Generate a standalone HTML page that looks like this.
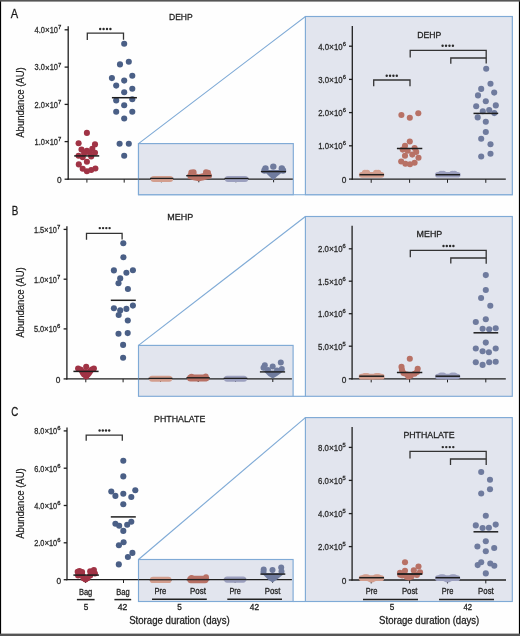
<!DOCTYPE html>
<html><head><meta charset="utf-8"><title>Figure</title>
<style>
html,body{margin:0;padding:0;background:#fff;}
body{width:520px;height:636px;overflow:hidden;font-family:"Liberation Sans",sans-serif;}
svg{display:block;will-change:transform;}
text{font-family:"Liberation Sans",sans-serif;}
</style></head><body>
<svg width="520" height="636" viewBox="0 0 520 636" font-family="Liberation Sans, sans-serif">
<rect x="0" y="0" width="520" height="636" fill="#fefefe"/>
<text x="10.8" y="18.3" font-size="12.6" text-anchor="start" fill="#1a1a1a" stroke="#1a1a1a" stroke-width="0.28" textLength="7.4" lengthAdjust="spacingAndGlyphs">A</text>
<text x="169" y="20.2" font-size="9.4" text-anchor="start" fill="#1e1e1e" stroke="#1e1e1e" stroke-width="0.28" textLength="23.7" lengthAdjust="spacingAndGlyphs">DEHP</text>
<text x="0" y="0" font-size="10.4" text-anchor="middle" fill="#1e1e1e" stroke="#1e1e1e" stroke-width="0.2" textLength="70.5" lengthAdjust="spacingAndGlyphs" transform="translate(24.3 102.5) rotate(-90)">Abundance (AU)</text>
<line x1="68.2" y1="26.3" x2="68.2" y2="179.8" stroke="#1f1f1f" stroke-width="1.3"/>
<line x1="67.6" y1="179.2" x2="292.8" y2="179.2" stroke="#1f1f1f" stroke-width="1.3"/>
<line x1="64.6" y1="29.8" x2="68.2" y2="29.8" stroke="#1f1f1f" stroke-width="1.3"/>
<text x="34.6" y="33.1" font-size="8.4" text-anchor="start" fill="#2a2a2a" stroke="#2a2a2a" stroke-width="0.28" textLength="23.3" lengthAdjust="spacingAndGlyphs">4.0<tspan font-size="9.07" dy="0.15">×</tspan><tspan dy="-0.15">10</tspan></text>
<text x="58" y="29.2" font-size="5.4" text-anchor="start" fill="#2a2a2a" stroke="#2a2a2a" stroke-width="0.28" textLength="3.3" lengthAdjust="spacingAndGlyphs">7</text>
<line x1="64.6" y1="67.1" x2="68.2" y2="67.1" stroke="#1f1f1f" stroke-width="1.3"/>
<text x="34.6" y="70.4" font-size="8.4" text-anchor="start" fill="#2a2a2a" stroke="#2a2a2a" stroke-width="0.28" textLength="23.3" lengthAdjust="spacingAndGlyphs">3.0<tspan font-size="9.07" dy="0.15">×</tspan><tspan dy="-0.15">10</tspan></text>
<text x="58" y="66.5" font-size="5.4" text-anchor="start" fill="#2a2a2a" stroke="#2a2a2a" stroke-width="0.28" textLength="3.3" lengthAdjust="spacingAndGlyphs">7</text>
<line x1="64.6" y1="104.4" x2="68.2" y2="104.4" stroke="#1f1f1f" stroke-width="1.3"/>
<text x="34.6" y="107.7" font-size="8.4" text-anchor="start" fill="#2a2a2a" stroke="#2a2a2a" stroke-width="0.28" textLength="23.3" lengthAdjust="spacingAndGlyphs">2.0<tspan font-size="9.07" dy="0.15">×</tspan><tspan dy="-0.15">10</tspan></text>
<text x="58" y="103.8" font-size="5.4" text-anchor="start" fill="#2a2a2a" stroke="#2a2a2a" stroke-width="0.28" textLength="3.3" lengthAdjust="spacingAndGlyphs">7</text>
<line x1="64.6" y1="141.6" x2="68.2" y2="141.6" stroke="#1f1f1f" stroke-width="1.3"/>
<text x="34.6" y="144.9" font-size="8.4" text-anchor="start" fill="#2a2a2a" stroke="#2a2a2a" stroke-width="0.28" textLength="23.3" lengthAdjust="spacingAndGlyphs">1.0<tspan font-size="9.07" dy="0.15">×</tspan><tspan dy="-0.15">10</tspan></text>
<text x="58" y="141" font-size="5.4" text-anchor="start" fill="#2a2a2a" stroke="#2a2a2a" stroke-width="0.28" textLength="3.3" lengthAdjust="spacingAndGlyphs">7</text>
<line x1="64.6" y1="179.2" x2="68.2" y2="179.2" stroke="#1f1f1f" stroke-width="1.3"/>
<text x="61.5" y="182.9" font-size="8.3" text-anchor="end" fill="#2a2a2a" stroke="#2a2a2a" stroke-width="0.28">0</text>
<line x1="86.9" y1="179.2" x2="86.9" y2="182.6" stroke="#1f1f1f" stroke-width="1"/>
<line x1="124.2" y1="179.2" x2="124.2" y2="182.6" stroke="#1f1f1f" stroke-width="1"/>
<path d="M87.3 40.1 V33.1 H123.5 V39.8" fill="none" stroke="#333" stroke-width="1.3"/>
<circle cx="100.2" cy="29" r="1.2" fill="#2a2a2a"/>
<circle cx="103.6" cy="29" r="1.2" fill="#2a2a2a"/>
<circle cx="107" cy="29" r="1.2" fill="#2a2a2a"/>
<circle cx="110.4" cy="29" r="1.2" fill="#2a2a2a"/>
<circle cx="86.9" cy="132.9" r="3.05" fill="#a03345"/>
<circle cx="78.6" cy="143.2" r="3.05" fill="#a03345"/>
<circle cx="95" cy="144.4" r="3.05" fill="#a03345"/>
<circle cx="81.5" cy="149.6" r="3.05" fill="#a03345"/>
<circle cx="86.9" cy="150.8" r="3.05" fill="#a03345"/>
<circle cx="92.3" cy="148.8" r="3.05" fill="#a03345"/>
<circle cx="95" cy="152.7" r="3.05" fill="#a03345"/>
<circle cx="78.6" cy="155.8" r="3.05" fill="#a03345"/>
<circle cx="82.7" cy="157.3" r="3.05" fill="#a03345"/>
<circle cx="91.2" cy="156.5" r="3.05" fill="#a03345"/>
<circle cx="86.9" cy="161.7" r="3.05" fill="#a03345"/>
<circle cx="78.8" cy="164.4" r="3.05" fill="#a03345"/>
<circle cx="82.7" cy="168.8" r="3.05" fill="#a03345"/>
<circle cx="86.9" cy="171.2" r="3.05" fill="#a03345"/>
<circle cx="91.2" cy="170" r="3.05" fill="#a03345"/>
<circle cx="95.4" cy="168.5" r="3.05" fill="#a03345"/>
<circle cx="84.2" cy="153.2" r="3.05" fill="#a03345"/>
<circle cx="89.5" cy="152.5" r="3.05" fill="#a03345"/>
<circle cx="124.2" cy="43.8" r="3.05" fill="#4a5f86"/>
<circle cx="120" cy="64.4" r="3.05" fill="#4a5f86"/>
<circle cx="128.8" cy="61.7" r="3.05" fill="#4a5f86"/>
<circle cx="111.9" cy="78.1" r="3.05" fill="#4a5f86"/>
<circle cx="124.2" cy="80.6" r="3.05" fill="#4a5f86"/>
<circle cx="132.3" cy="75.8" r="3.05" fill="#4a5f86"/>
<circle cx="116.2" cy="85.6" r="3.05" fill="#4a5f86"/>
<circle cx="132.3" cy="88.8" r="3.05" fill="#4a5f86"/>
<circle cx="124.2" cy="92.3" r="3.05" fill="#4a5f86"/>
<circle cx="116.2" cy="100.4" r="3.05" fill="#4a5f86"/>
<circle cx="132.3" cy="99.2" r="3.05" fill="#4a5f86"/>
<circle cx="124.2" cy="105.2" r="3.05" fill="#4a5f86"/>
<circle cx="116.2" cy="111.7" r="3.05" fill="#4a5f86"/>
<circle cx="132.3" cy="111.7" r="3.05" fill="#4a5f86"/>
<circle cx="124.2" cy="118.5" r="3.05" fill="#4a5f86"/>
<circle cx="119.6" cy="143.8" r="3.05" fill="#4a5f86"/>
<circle cx="128.8" cy="143.8" r="3.05" fill="#4a5f86"/>
<circle cx="124.2" cy="155.8" r="3.05" fill="#4a5f86"/>
<line x1="74.2" y1="155.9" x2="99.2" y2="155.9" stroke="#1e1e1e" stroke-width="1.5"/>
<line x1="111.9" y1="97.7" x2="136.9" y2="97.7" stroke="#1e1e1e" stroke-width="1.5"/>
<path d="M138.5 143.6 L305.4 16.5 H512.3 V194.7 H138.5 Z" fill="none" stroke="#7faad6" stroke-width="1.15"/>
<rect x="138.5" y="143.6" width="154.8" height="51.1" fill="#e2e5ee" stroke="#7faad6" stroke-width="1.15"/>
<rect x="305.4" y="16.5" width="206.9" height="178.2" fill="#e2e5ee" stroke="#7faad6" stroke-width="1.15"/>
<line x1="138.4" y1="179.2" x2="292.8" y2="179.2" stroke="#1f1f1f" stroke-width="1.3"/>
<line x1="161.4" y1="179.2" x2="161.4" y2="182.3" stroke="#1f1f1f" stroke-width="1"/>
<line x1="198.8" y1="179.2" x2="198.8" y2="182.3" stroke="#1f1f1f" stroke-width="1"/>
<line x1="235.9" y1="179.2" x2="235.9" y2="182.3" stroke="#1f1f1f" stroke-width="1"/>
<line x1="273.6" y1="179.2" x2="273.6" y2="182.3" stroke="#1f1f1f" stroke-width="1"/>
<rect x="150.6" y="175.9" width="22.5" height="6" rx="3" fill="#d39e8e"/>
<line x1="150" y1="178.4" x2="173.4" y2="178.4" stroke="#1e1e1e" stroke-width="1.3"/>
<circle cx="191.3" cy="172.4" r="3" fill="#b87165"/>
<circle cx="193.6" cy="172.2" r="3" fill="#b87165"/>
<circle cx="206" cy="172.2" r="3" fill="#b87165"/>
<circle cx="208" cy="172.8" r="3" fill="#b87165"/>
<circle cx="190.3" cy="175.8" r="3" fill="#b87165"/>
<circle cx="209" cy="175.8" r="3" fill="#b87165"/>
<path d="M187.6 174.5 L192 172.5 L198.7 174.3 L205.5 172.5 L210.1 174.5 L209.6 178.5 L204 180.3 L198.7 181.3 L193.5 180.3 L188 178.5 Z" fill="#b87165"/>
<line x1="186.2" y1="175.7" x2="211.5" y2="175.7" stroke="#1e1e1e" stroke-width="1.4"/>
<rect x="224.9" y="176" width="23.3" height="6" rx="3" fill="#9ca0bf"/>
<line x1="224.5" y1="178.5" x2="248.6" y2="178.5" stroke="#1e1e1e" stroke-width="1.3"/>
<circle cx="265.5" cy="168.4" r="3.2" fill="#6f7b9e"/>
<circle cx="273.3" cy="166.6" r="3.2" fill="#6f7b9e"/>
<circle cx="281.8" cy="168.4" r="3.2" fill="#6f7b9e"/>
<circle cx="264.5" cy="170.5" r="3.2" fill="#6f7b9e"/>
<circle cx="283" cy="170.5" r="3.2" fill="#6f7b9e"/>
<path d="M262.8 170 L285 170 L277 176.5 L273.3 180.3 L269.5 176.5 Z" fill="#6f7b9e"/>
<line x1="260.9" y1="171.6" x2="286.1" y2="171.6" stroke="#1e1e1e" stroke-width="1.4"/>
<text x="417.3" y="37.5" font-size="9.4" text-anchor="start" fill="#1e1e1e" stroke="#1e1e1e" stroke-width="0.28" textLength="24" lengthAdjust="spacingAndGlyphs">DEHP</text>
<line x1="352.3" y1="25.9" x2="352.3" y2="179.8" stroke="#1f1f1f" stroke-width="1.3"/>
<line x1="351.7" y1="179.2" x2="505.8" y2="179.2" stroke="#1f1f1f" stroke-width="1.3"/>
<line x1="349" y1="46.2" x2="352.3" y2="46.2" stroke="#1f1f1f" stroke-width="1.3"/>
<text x="318.3" y="49.5" font-size="8.4" text-anchor="start" fill="#2a2a2a" stroke="#2a2a2a" stroke-width="0.28" textLength="24.4" lengthAdjust="spacingAndGlyphs">4.0<tspan font-size="9.07" dy="0.15">×</tspan><tspan dy="-0.15">10</tspan></text>
<text x="342.8" y="45.6" font-size="5.4" text-anchor="start" fill="#2a2a2a" stroke="#2a2a2a" stroke-width="0.28" textLength="3.2" lengthAdjust="spacingAndGlyphs">6</text>
<line x1="349" y1="79.4" x2="352.3" y2="79.4" stroke="#1f1f1f" stroke-width="1.3"/>
<text x="318.3" y="82.7" font-size="8.4" text-anchor="start" fill="#2a2a2a" stroke="#2a2a2a" stroke-width="0.28" textLength="24.4" lengthAdjust="spacingAndGlyphs">3.0<tspan font-size="9.07" dy="0.15">×</tspan><tspan dy="-0.15">10</tspan></text>
<text x="342.8" y="78.8" font-size="5.4" text-anchor="start" fill="#2a2a2a" stroke="#2a2a2a" stroke-width="0.28" textLength="3.2" lengthAdjust="spacingAndGlyphs">6</text>
<line x1="349" y1="112.6" x2="352.3" y2="112.6" stroke="#1f1f1f" stroke-width="1.3"/>
<text x="318.3" y="115.9" font-size="8.4" text-anchor="start" fill="#2a2a2a" stroke="#2a2a2a" stroke-width="0.28" textLength="24.4" lengthAdjust="spacingAndGlyphs">2.0<tspan font-size="9.07" dy="0.15">×</tspan><tspan dy="-0.15">10</tspan></text>
<text x="342.8" y="112" font-size="5.4" text-anchor="start" fill="#2a2a2a" stroke="#2a2a2a" stroke-width="0.28" textLength="3.2" lengthAdjust="spacingAndGlyphs">6</text>
<line x1="349" y1="145.8" x2="352.3" y2="145.8" stroke="#1f1f1f" stroke-width="1.3"/>
<text x="318.3" y="149.1" font-size="8.4" text-anchor="start" fill="#2a2a2a" stroke="#2a2a2a" stroke-width="0.28" textLength="24.4" lengthAdjust="spacingAndGlyphs">1.0<tspan font-size="9.07" dy="0.15">×</tspan><tspan dy="-0.15">10</tspan></text>
<text x="342.8" y="145.2" font-size="5.4" text-anchor="start" fill="#2a2a2a" stroke="#2a2a2a" stroke-width="0.28" textLength="3.2" lengthAdjust="spacingAndGlyphs">6</text>
<line x1="349" y1="179.1" x2="352.3" y2="179.1" stroke="#1f1f1f" stroke-width="1.3"/>
<text x="346.3" y="182.8" font-size="8.3" text-anchor="end" fill="#2a2a2a" stroke="#2a2a2a" stroke-width="0.28">0</text>
<line x1="371.2" y1="179.2" x2="371.2" y2="182.8" stroke="#1f1f1f" stroke-width="1"/>
<line x1="409.6" y1="179.2" x2="409.6" y2="182.8" stroke="#1f1f1f" stroke-width="1"/>
<line x1="447.5" y1="179.2" x2="447.5" y2="182.8" stroke="#1f1f1f" stroke-width="1"/>
<line x1="485.8" y1="179.2" x2="485.8" y2="182.8" stroke="#1f1f1f" stroke-width="1"/>
<path d="M373.7 86.3 V80 H410 V86.3" fill="none" stroke="#333" stroke-width="1.3"/>
<circle cx="386.7" cy="75.7" r="1.2" fill="#2a2a2a"/>
<circle cx="390.07" cy="75.7" r="1.2" fill="#2a2a2a"/>
<circle cx="393.43" cy="75.7" r="1.2" fill="#2a2a2a"/>
<circle cx="396.8" cy="75.7" r="1.2" fill="#2a2a2a"/>
<path d="M410.2 57.5 V50.3 H486.2 V63.4" fill="none" stroke="#333" stroke-width="1.3"/>
<path d="M450.8 63.8 V58 H486.2 V58" fill="none" stroke="#333" stroke-width="1.3"/>
<circle cx="442.6" cy="45.8" r="1.2" fill="#2a2a2a"/>
<circle cx="446.03" cy="45.8" r="1.2" fill="#2a2a2a"/>
<circle cx="449.47" cy="45.8" r="1.2" fill="#2a2a2a"/>
<circle cx="452.9" cy="45.8" r="1.2" fill="#2a2a2a"/>
<rect x="358.9" y="171.9" width="25.4" height="5.9" rx="3" fill="#d39e8e"/>
<circle cx="364.91" cy="172.73" r="3.05" fill="#d39e8e"/>
<circle cx="367.11" cy="172.73" r="3.05" fill="#d39e8e"/>
<circle cx="376.09" cy="172.73" r="3.05" fill="#d39e8e"/>
<circle cx="378.29" cy="172.73" r="3.05" fill="#d39e8e"/>
<line x1="359.5" y1="174.7" x2="384" y2="174.7" stroke="#1e1e1e" stroke-width="1.5"/>
<circle cx="401.4" cy="115" r="3.05" fill="#b87165"/>
<circle cx="409.8" cy="117.8" r="3.05" fill="#b87165"/>
<circle cx="418.3" cy="113.3" r="3.05" fill="#b87165"/>
<circle cx="409.8" cy="141.5" r="3.05" fill="#b87165"/>
<circle cx="405" cy="145.8" r="3.05" fill="#b87165"/>
<circle cx="414.6" cy="148.1" r="3.05" fill="#b87165"/>
<circle cx="402.7" cy="149.6" r="3.05" fill="#b87165"/>
<circle cx="407.7" cy="150.8" r="3.05" fill="#b87165"/>
<circle cx="416.2" cy="151.9" r="3.05" fill="#b87165"/>
<circle cx="405" cy="155.8" r="3.05" fill="#b87165"/>
<circle cx="412.3" cy="154.6" r="3.05" fill="#b87165"/>
<circle cx="418.5" cy="157.7" r="3.05" fill="#b87165"/>
<circle cx="401.2" cy="161.5" r="3.05" fill="#b87165"/>
<circle cx="405.4" cy="163.8" r="3.05" fill="#b87165"/>
<circle cx="410" cy="164.2" r="3.05" fill="#b87165"/>
<circle cx="414.6" cy="162.7" r="3.05" fill="#b87165"/>
<line x1="396.9" y1="148.5" x2="422.3" y2="148.5" stroke="#1e1e1e" stroke-width="1.5"/>
<rect x="435" y="171.9" width="25.6" height="5.6" rx="3" fill="#9ca0bf"/>
<circle cx="441.07" cy="173.73" r="3.05" fill="#9ca0bf"/>
<circle cx="443.27" cy="173.73" r="3.05" fill="#9ca0bf"/>
<circle cx="452.33" cy="173.73" r="3.05" fill="#9ca0bf"/>
<circle cx="454.53" cy="173.73" r="3.05" fill="#9ca0bf"/>
<line x1="435.8" y1="174.7" x2="460" y2="174.7" stroke="#1e1e1e" stroke-width="1.5"/>
<circle cx="486.2" cy="68.8" r="3.05" fill="#6f7b9e"/>
<circle cx="490.5" cy="83.8" r="3.05" fill="#6f7b9e"/>
<circle cx="481.2" cy="88.9" r="3.05" fill="#6f7b9e"/>
<circle cx="494.2" cy="92.6" r="3.05" fill="#6f7b9e"/>
<circle cx="478" cy="95.4" r="3.05" fill="#6f7b9e"/>
<circle cx="485.8" cy="101.2" r="3.05" fill="#6f7b9e"/>
<circle cx="476.2" cy="106.2" r="3.05" fill="#6f7b9e"/>
<circle cx="495.8" cy="105.4" r="3.05" fill="#6f7b9e"/>
<circle cx="482.8" cy="111.2" r="3.05" fill="#6f7b9e"/>
<circle cx="489.2" cy="110" r="3.05" fill="#6f7b9e"/>
<circle cx="494.3" cy="113.1" r="3.05" fill="#6f7b9e"/>
<circle cx="477.7" cy="117.4" r="3.05" fill="#6f7b9e"/>
<circle cx="485.8" cy="121.7" r="3.05" fill="#6f7b9e"/>
<circle cx="485.8" cy="132" r="3.05" fill="#6f7b9e"/>
<circle cx="481.2" cy="138.8" r="3.05" fill="#6f7b9e"/>
<circle cx="490.5" cy="144.3" r="3.05" fill="#6f7b9e"/>
<circle cx="490.5" cy="153.8" r="3.05" fill="#6f7b9e"/>
<circle cx="481.2" cy="156.5" r="3.05" fill="#6f7b9e"/>
<line x1="473.5" y1="113.4" x2="498.2" y2="113.4" stroke="#1e1e1e" stroke-width="1.5"/>
<text x="11.8" y="215.1" font-size="12.6" text-anchor="start" fill="#1a1a1a" stroke="#1a1a1a" stroke-width="0.28" textLength="6.6" lengthAdjust="spacingAndGlyphs">B</text>
<text x="167.3" y="220.2" font-size="9.4" text-anchor="start" fill="#1e1e1e" stroke="#1e1e1e" stroke-width="0.28" textLength="25.9" lengthAdjust="spacingAndGlyphs">MEHP</text>
<text x="0" y="0" font-size="10.4" text-anchor="middle" fill="#1e1e1e" stroke="#1e1e1e" stroke-width="0.2" textLength="70.5" lengthAdjust="spacingAndGlyphs" transform="translate(24.3 302.5) rotate(-90)">Abundance (AU)</text>
<line x1="66.9" y1="226.2" x2="66.9" y2="379.5" stroke="#1f1f1f" stroke-width="1.3"/>
<line x1="66.3" y1="378.9" x2="291.9" y2="378.9" stroke="#1f1f1f" stroke-width="1.3"/>
<line x1="63.6" y1="229.4" x2="66.9" y2="229.4" stroke="#1f1f1f" stroke-width="1.3"/>
<text x="33.9" y="232.7" font-size="8.4" text-anchor="start" fill="#2a2a2a" stroke="#2a2a2a" stroke-width="0.28" textLength="23" lengthAdjust="spacingAndGlyphs">1.5<tspan font-size="9.07" dy="0.15">×</tspan><tspan dy="-0.15">10</tspan></text>
<text x="57" y="228.8" font-size="5.4" text-anchor="start" fill="#2a2a2a" stroke="#2a2a2a" stroke-width="0.28" textLength="3.3" lengthAdjust="spacingAndGlyphs">7</text>
<line x1="63.6" y1="279.2" x2="66.9" y2="279.2" stroke="#1f1f1f" stroke-width="1.3"/>
<text x="33.9" y="282.5" font-size="8.4" text-anchor="start" fill="#2a2a2a" stroke="#2a2a2a" stroke-width="0.28" textLength="23" lengthAdjust="spacingAndGlyphs">1.0<tspan font-size="9.07" dy="0.15">×</tspan><tspan dy="-0.15">10</tspan></text>
<text x="57" y="278.6" font-size="5.4" text-anchor="start" fill="#2a2a2a" stroke="#2a2a2a" stroke-width="0.28" textLength="3.3" lengthAdjust="spacingAndGlyphs">7</text>
<line x1="63.6" y1="328.9" x2="66.9" y2="328.9" stroke="#1f1f1f" stroke-width="1.3"/>
<text x="33.9" y="332.2" font-size="8.4" text-anchor="start" fill="#2a2a2a" stroke="#2a2a2a" stroke-width="0.28" textLength="23" lengthAdjust="spacingAndGlyphs">5.0<tspan font-size="9.07" dy="0.15">×</tspan><tspan dy="-0.15">10</tspan></text>
<text x="57" y="328.3" font-size="5.4" text-anchor="start" fill="#2a2a2a" stroke="#2a2a2a" stroke-width="0.28" textLength="3.3" lengthAdjust="spacingAndGlyphs">6</text>
<line x1="63.6" y1="378.9" x2="66.9" y2="378.9" stroke="#1f1f1f" stroke-width="1.3"/>
<text x="60.3" y="382.6" font-size="8.3" text-anchor="end" fill="#2a2a2a" stroke="#2a2a2a" stroke-width="0.28">0</text>
<line x1="85.8" y1="378.9" x2="85.8" y2="382.3" stroke="#1f1f1f" stroke-width="1"/>
<line x1="123.1" y1="378.9" x2="123.1" y2="382.3" stroke="#1f1f1f" stroke-width="1"/>
<path d="M86.5 239.8 V233.3 H122.1 V239.6" fill="none" stroke="#333" stroke-width="1.3"/>
<circle cx="99.8" cy="228.1" r="1.2" fill="#2a2a2a"/>
<circle cx="103.07" cy="228.1" r="1.2" fill="#2a2a2a"/>
<circle cx="106.33" cy="228.1" r="1.2" fill="#2a2a2a"/>
<circle cx="109.6" cy="228.1" r="1.2" fill="#2a2a2a"/>
<circle cx="78.1" cy="368.5" r="3.05" fill="#a03345"/>
<circle cx="86.2" cy="366.8" r="3.05" fill="#a03345"/>
<circle cx="93.9" cy="368.5" r="3.05" fill="#a03345"/>
<circle cx="82.1" cy="371.2" r="3.05" fill="#a03345"/>
<circle cx="90.2" cy="371.2" r="3.05" fill="#a03345"/>
<circle cx="84.1" cy="374.5" r="3.05" fill="#a03345"/>
<circle cx="87.8" cy="374.5" r="3.05" fill="#a03345"/>
<circle cx="86.2" cy="376.5" r="3.05" fill="#a03345"/>
<circle cx="80.5" cy="369.5" r="3.05" fill="#a03345"/>
<circle cx="91.8" cy="369.5" r="3.05" fill="#a03345"/>
<circle cx="86" cy="372" r="3.05" fill="#a03345"/>
<circle cx="83" cy="373" r="3.05" fill="#a03345"/>
<circle cx="89" cy="373" r="3.05" fill="#a03345"/>
<circle cx="123.3" cy="243.2" r="3.05" fill="#4a5f86"/>
<circle cx="123.4" cy="257.2" r="3.05" fill="#4a5f86"/>
<circle cx="113.9" cy="270.4" r="3.05" fill="#4a5f86"/>
<circle cx="126.4" cy="272.7" r="3.05" fill="#4a5f86"/>
<circle cx="132.9" cy="270.2" r="3.05" fill="#4a5f86"/>
<circle cx="120.2" cy="278.4" r="3.05" fill="#4a5f86"/>
<circle cx="118.5" cy="283.2" r="3.05" fill="#4a5f86"/>
<circle cx="127.9" cy="289" r="3.05" fill="#4a5f86"/>
<circle cx="113.9" cy="308.2" r="3.05" fill="#4a5f86"/>
<circle cx="120.2" cy="310.4" r="3.05" fill="#4a5f86"/>
<circle cx="126.4" cy="308.9" r="3.05" fill="#4a5f86"/>
<circle cx="132.9" cy="305.6" r="3.05" fill="#4a5f86"/>
<circle cx="118.7" cy="315" r="3.05" fill="#4a5f86"/>
<circle cx="127.8" cy="320.5" r="3.05" fill="#4a5f86"/>
<circle cx="118.5" cy="333.8" r="3.05" fill="#4a5f86"/>
<circle cx="127.7" cy="333.1" r="3.05" fill="#4a5f86"/>
<circle cx="123.1" cy="344.9" r="3.05" fill="#4a5f86"/>
<circle cx="123.1" cy="357.7" r="3.05" fill="#4a5f86"/>
<line x1="73.4" y1="371.4" x2="98.6" y2="371.4" stroke="#1e1e1e" stroke-width="1.5"/>
<line x1="110.8" y1="300.3" x2="135.8" y2="300.3" stroke="#1e1e1e" stroke-width="1.5"/>
<path d="M138.5 345.4 L305.4 216.5" fill="none" stroke="#7faad6" stroke-width="1.15"/>
<rect x="138.5" y="345.4" width="154.6" height="50.9" fill="#e2e5ee" stroke="#7faad6" stroke-width="1.15"/>
<rect x="305.4" y="216.5" width="206.9" height="179.8" fill="#e2e5ee" stroke="#7faad6" stroke-width="1.15"/>
<line x1="293.1" y1="396.3" x2="305.4" y2="396.3" stroke="#7faad6" stroke-width="1.15"/>
<line x1="138.5" y1="378.9" x2="291.9" y2="378.9" stroke="#1f1f1f" stroke-width="1.3"/>
<line x1="160.5" y1="378.9" x2="160.5" y2="382" stroke="#1f1f1f" stroke-width="1"/>
<line x1="198.2" y1="378.9" x2="198.2" y2="382" stroke="#1f1f1f" stroke-width="1"/>
<line x1="235.5" y1="378.9" x2="235.5" y2="382" stroke="#1f1f1f" stroke-width="1"/>
<line x1="272.8" y1="378.9" x2="272.8" y2="382" stroke="#1f1f1f" stroke-width="1"/>
<rect x="149" y="375.8" width="23.2" height="6" rx="3" fill="#d39e8e"/>
<line x1="148.5" y1="378.4" x2="172.6" y2="378.4" stroke="#1e1e1e" stroke-width="1.3"/>
<rect x="187" y="374.5" width="21.8" height="7" rx="3.5" fill="#b87165"/>
<circle cx="191.5" cy="376.5" r="2.8" fill="#b87165"/>
<circle cx="205.8" cy="376.2" r="2.8" fill="#b87165"/>
<circle cx="206.5" cy="378.5" r="2.8" fill="#b87165"/>
<line x1="186.4" y1="377.8" x2="209.8" y2="377.8" stroke="#1e1e1e" stroke-width="1.4"/>
<rect x="224" y="375.8" width="23" height="6" rx="3" fill="#9ca0bf"/>
<line x1="223.6" y1="378.4" x2="247.4" y2="378.4" stroke="#1e1e1e" stroke-width="1.3"/>
<circle cx="264.8" cy="365.2" r="3" fill="#6f7b9e"/>
<circle cx="272.7" cy="366.5" r="3" fill="#6f7b9e"/>
<circle cx="280.8" cy="362.5" r="3" fill="#6f7b9e"/>
<circle cx="281.8" cy="369.1" r="3" fill="#6f7b9e"/>
<circle cx="263.5" cy="367.8" r="3" fill="#6f7b9e"/>
<circle cx="268" cy="370" r="3" fill="#6f7b9e"/>
<circle cx="277" cy="370.5" r="3" fill="#6f7b9e"/>
<path d="M263 370.5 L284.5 370.5 L277 376 L272.7 378.6 L268.5 376 Z" fill="#6f7b9e"/>
<line x1="259.9" y1="371.9" x2="285.1" y2="371.9" stroke="#1e1e1e" stroke-width="1.4"/>
<text x="416.6" y="236.8" font-size="9.4" text-anchor="start" fill="#1e1e1e" stroke="#1e1e1e" stroke-width="0.28" textLength="25.7" lengthAdjust="spacingAndGlyphs">MEHP</text>
<line x1="352.1" y1="225.8" x2="352.1" y2="379.4" stroke="#1f1f1f" stroke-width="1.3"/>
<line x1="351.5" y1="378.8" x2="505.8" y2="378.8" stroke="#1f1f1f" stroke-width="1.3"/>
<line x1="348.8" y1="248.8" x2="352.1" y2="248.8" stroke="#1f1f1f" stroke-width="1.3"/>
<text x="318.1" y="252.1" font-size="8.4" text-anchor="start" fill="#2a2a2a" stroke="#2a2a2a" stroke-width="0.28" textLength="24.4" lengthAdjust="spacingAndGlyphs">2.0<tspan font-size="9.07" dy="0.15">×</tspan><tspan dy="-0.15">10</tspan></text>
<text x="342.6" y="248.2" font-size="5.4" text-anchor="start" fill="#2a2a2a" stroke="#2a2a2a" stroke-width="0.28" textLength="3.2" lengthAdjust="spacingAndGlyphs">6</text>
<line x1="348.8" y1="281.2" x2="352.1" y2="281.2" stroke="#1f1f1f" stroke-width="1.3"/>
<text x="318.1" y="284.5" font-size="8.4" text-anchor="start" fill="#2a2a2a" stroke="#2a2a2a" stroke-width="0.28" textLength="24.4" lengthAdjust="spacingAndGlyphs">1.5<tspan font-size="9.07" dy="0.15">×</tspan><tspan dy="-0.15">10</tspan></text>
<text x="342.6" y="280.6" font-size="5.4" text-anchor="start" fill="#2a2a2a" stroke="#2a2a2a" stroke-width="0.28" textLength="3.2" lengthAdjust="spacingAndGlyphs">6</text>
<line x1="348.8" y1="313.7" x2="352.1" y2="313.7" stroke="#1f1f1f" stroke-width="1.3"/>
<text x="318.1" y="317" font-size="8.4" text-anchor="start" fill="#2a2a2a" stroke="#2a2a2a" stroke-width="0.28" textLength="24.4" lengthAdjust="spacingAndGlyphs">1.0<tspan font-size="9.07" dy="0.15">×</tspan><tspan dy="-0.15">10</tspan></text>
<text x="342.6" y="313.1" font-size="5.4" text-anchor="start" fill="#2a2a2a" stroke="#2a2a2a" stroke-width="0.28" textLength="3.2" lengthAdjust="spacingAndGlyphs">6</text>
<line x1="348.8" y1="346.2" x2="352.1" y2="346.2" stroke="#1f1f1f" stroke-width="1.3"/>
<text x="318.1" y="349.5" font-size="8.4" text-anchor="start" fill="#2a2a2a" stroke="#2a2a2a" stroke-width="0.28" textLength="24.4" lengthAdjust="spacingAndGlyphs">5.0<tspan font-size="9.07" dy="0.15">×</tspan><tspan dy="-0.15">10</tspan></text>
<text x="342.6" y="345.6" font-size="5.4" text-anchor="start" fill="#2a2a2a" stroke="#2a2a2a" stroke-width="0.28" textLength="3.2" lengthAdjust="spacingAndGlyphs">5</text>
<line x1="348.8" y1="378.8" x2="352.1" y2="378.8" stroke="#1f1f1f" stroke-width="1.3"/>
<text x="346.3" y="382.5" font-size="8.3" text-anchor="end" fill="#2a2a2a" stroke="#2a2a2a" stroke-width="0.28">0</text>
<line x1="371.2" y1="378.8" x2="371.2" y2="382.4" stroke="#1f1f1f" stroke-width="1"/>
<line x1="409.6" y1="378.8" x2="409.6" y2="382.4" stroke="#1f1f1f" stroke-width="1"/>
<line x1="447.5" y1="378.8" x2="447.5" y2="382.4" stroke="#1f1f1f" stroke-width="1"/>
<line x1="485.8" y1="378.8" x2="485.8" y2="382.4" stroke="#1f1f1f" stroke-width="1"/>
<path d="M410.3 257.2 V250.3 H486.2 V263.8" fill="none" stroke="#333" stroke-width="1.3"/>
<path d="M450.8 263.6 V258 H486.2 V258" fill="none" stroke="#333" stroke-width="1.3"/>
<circle cx="443.5" cy="246" r="1.2" fill="#2a2a2a"/>
<circle cx="446.8" cy="246" r="1.2" fill="#2a2a2a"/>
<circle cx="450.1" cy="246" r="1.2" fill="#2a2a2a"/>
<circle cx="453.4" cy="246" r="1.2" fill="#2a2a2a"/>
<rect x="358.7" y="373.8" width="25.9" height="5.7" rx="3" fill="#d39e8e"/>
<circle cx="364.85" cy="376.02" r="3.05" fill="#d39e8e"/>
<circle cx="367.05" cy="376.02" r="3.05" fill="#d39e8e"/>
<circle cx="376.25" cy="376.02" r="3.05" fill="#d39e8e"/>
<circle cx="378.45" cy="376.02" r="3.05" fill="#d39e8e"/>
<path d="M365.18 378.5 L378.12 378.5 L372.85 379.5 L370.45 379.5 Z" fill="#d39e8e"/>
<line x1="359.2" y1="376.2" x2="384" y2="376.2" stroke="#1e1e1e" stroke-width="1.5"/>
<circle cx="409.8" cy="358.8" r="3.05" fill="#b87165"/>
<circle cx="401.5" cy="366.9" r="3.05" fill="#b87165"/>
<circle cx="417.7" cy="368.8" r="3.05" fill="#b87165"/>
<circle cx="403.5" cy="373.1" r="3.05" fill="#b87165"/>
<circle cx="406.9" cy="374.6" r="3.05" fill="#b87165"/>
<circle cx="410.8" cy="375.4" r="3.05" fill="#b87165"/>
<circle cx="414.6" cy="373.8" r="3.05" fill="#b87165"/>
<circle cx="402" cy="370" r="3.05" fill="#b87165"/>
<circle cx="417" cy="372" r="3.05" fill="#b87165"/>
<circle cx="408.5" cy="376.5" r="3.05" fill="#b87165"/>
<line x1="396.9" y1="372.5" x2="422.3" y2="372.5" stroke="#1e1e1e" stroke-width="1.5"/>
<rect x="435" y="373.8" width="25.3" height="5.5" rx="3" fill="#9ca0bf"/>
<circle cx="440.98" cy="375.43" r="3.05" fill="#9ca0bf"/>
<circle cx="443.18" cy="375.43" r="3.05" fill="#9ca0bf"/>
<circle cx="452.12" cy="375.43" r="3.05" fill="#9ca0bf"/>
<circle cx="454.32" cy="375.43" r="3.05" fill="#9ca0bf"/>
<path d="M441.32 378.3 L453.98 378.3 L448.85 379.5 L446.45 379.5 Z" fill="#9ca0bf"/>
<line x1="435.6" y1="376.2" x2="460" y2="376.2" stroke="#1e1e1e" stroke-width="1.5"/>
<circle cx="485.8" cy="275.1" r="3.05" fill="#6f7b9e"/>
<circle cx="485.8" cy="290" r="3.05" fill="#6f7b9e"/>
<circle cx="481.1" cy="298" r="3.05" fill="#6f7b9e"/>
<circle cx="490.3" cy="305.8" r="3.05" fill="#6f7b9e"/>
<circle cx="485.8" cy="319.2" r="3.05" fill="#6f7b9e"/>
<circle cx="475.8" cy="322" r="3.05" fill="#6f7b9e"/>
<circle cx="482.6" cy="328.8" r="3.05" fill="#6f7b9e"/>
<circle cx="489.2" cy="329.2" r="3.05" fill="#6f7b9e"/>
<circle cx="495.7" cy="328.2" r="3.05" fill="#6f7b9e"/>
<circle cx="485.8" cy="342.6" r="3.05" fill="#6f7b9e"/>
<circle cx="475.8" cy="348.5" r="3.05" fill="#6f7b9e"/>
<circle cx="482.6" cy="351.2" r="3.05" fill="#6f7b9e"/>
<circle cx="488.9" cy="352.3" r="3.05" fill="#6f7b9e"/>
<circle cx="495.7" cy="348.5" r="3.05" fill="#6f7b9e"/>
<circle cx="475.8" cy="362.3" r="3.05" fill="#6f7b9e"/>
<circle cx="482.6" cy="364.9" r="3.05" fill="#6f7b9e"/>
<circle cx="489.2" cy="362.3" r="3.05" fill="#6f7b9e"/>
<circle cx="495.7" cy="361.8" r="3.05" fill="#6f7b9e"/>
<line x1="473.5" y1="332.8" x2="498.2" y2="332.8" stroke="#1e1e1e" stroke-width="1.5"/>
<text x="11.2" y="415.8" font-size="12.6" text-anchor="start" fill="#1a1a1a" stroke="#1a1a1a" stroke-width="0.28" textLength="7" lengthAdjust="spacingAndGlyphs">C</text>
<text x="154.1" y="422" font-size="9.4" text-anchor="start" fill="#1e1e1e" stroke="#1e1e1e" stroke-width="0.28" textLength="51.2" lengthAdjust="spacingAndGlyphs">PHTHALATE</text>
<text x="0" y="0" font-size="10.4" text-anchor="middle" fill="#1e1e1e" stroke="#1e1e1e" stroke-width="0.2" textLength="70.5" lengthAdjust="spacingAndGlyphs" transform="translate(24.3 503.5) rotate(-90)">Abundance (AU)</text>
<line x1="67" y1="427.4" x2="67" y2="580.3" stroke="#1f1f1f" stroke-width="1.3"/>
<line x1="66.4" y1="579.7" x2="291.9" y2="579.7" stroke="#1f1f1f" stroke-width="1.3"/>
<line x1="63.7" y1="430.9" x2="67" y2="430.9" stroke="#1f1f1f" stroke-width="1.3"/>
<text x="34.2" y="434.2" font-size="8.4" text-anchor="start" fill="#2a2a2a" stroke="#2a2a2a" stroke-width="0.28" textLength="23" lengthAdjust="spacingAndGlyphs">8.0<tspan font-size="9.07" dy="0.15">×</tspan><tspan dy="-0.15">10</tspan></text>
<text x="57.3" y="430.3" font-size="5.4" text-anchor="start" fill="#2a2a2a" stroke="#2a2a2a" stroke-width="0.28" textLength="3.3" lengthAdjust="spacingAndGlyphs">6</text>
<line x1="63.7" y1="468.2" x2="67" y2="468.2" stroke="#1f1f1f" stroke-width="1.3"/>
<text x="34.2" y="471.5" font-size="8.4" text-anchor="start" fill="#2a2a2a" stroke="#2a2a2a" stroke-width="0.28" textLength="23" lengthAdjust="spacingAndGlyphs">6.0<tspan font-size="9.07" dy="0.15">×</tspan><tspan dy="-0.15">10</tspan></text>
<text x="57.3" y="467.6" font-size="5.4" text-anchor="start" fill="#2a2a2a" stroke="#2a2a2a" stroke-width="0.28" textLength="3.3" lengthAdjust="spacingAndGlyphs">6</text>
<line x1="63.7" y1="505.5" x2="67" y2="505.5" stroke="#1f1f1f" stroke-width="1.3"/>
<text x="34.2" y="508.8" font-size="8.4" text-anchor="start" fill="#2a2a2a" stroke="#2a2a2a" stroke-width="0.28" textLength="23" lengthAdjust="spacingAndGlyphs">4.0<tspan font-size="9.07" dy="0.15">×</tspan><tspan dy="-0.15">10</tspan></text>
<text x="57.3" y="504.9" font-size="5.4" text-anchor="start" fill="#2a2a2a" stroke="#2a2a2a" stroke-width="0.28" textLength="3.3" lengthAdjust="spacingAndGlyphs">6</text>
<line x1="63.7" y1="542.8" x2="67" y2="542.8" stroke="#1f1f1f" stroke-width="1.3"/>
<text x="34.2" y="546.1" font-size="8.4" text-anchor="start" fill="#2a2a2a" stroke="#2a2a2a" stroke-width="0.28" textLength="23" lengthAdjust="spacingAndGlyphs">2.0<tspan font-size="9.07" dy="0.15">×</tspan><tspan dy="-0.15">10</tspan></text>
<text x="57.3" y="542.2" font-size="5.4" text-anchor="start" fill="#2a2a2a" stroke="#2a2a2a" stroke-width="0.28" textLength="3.3" lengthAdjust="spacingAndGlyphs">6</text>
<line x1="63.7" y1="579.7" x2="67" y2="579.7" stroke="#1f1f1f" stroke-width="1.3"/>
<text x="61" y="583.6" font-size="8.3" text-anchor="end" fill="#2a2a2a" stroke="#2a2a2a" stroke-width="0.28">0</text>
<line x1="85.6" y1="579.7" x2="85.6" y2="583" stroke="#1f1f1f" stroke-width="1"/>
<line x1="123.5" y1="579.7" x2="123.5" y2="583" stroke="#1f1f1f" stroke-width="1"/>
<path d="M86.2 440.8 V435.2 H122.3 V440.8" fill="none" stroke="#333" stroke-width="1.3"/>
<circle cx="99.6" cy="430.5" r="1.2" fill="#2a2a2a"/>
<circle cx="102.8" cy="430.5" r="1.2" fill="#2a2a2a"/>
<circle cx="106" cy="430.5" r="1.2" fill="#2a2a2a"/>
<circle cx="109.2" cy="430.5" r="1.2" fill="#2a2a2a"/>
<circle cx="77.7" cy="571.8" r="3.05" fill="#a03345"/>
<circle cx="82.1" cy="572.1" r="3.05" fill="#a03345"/>
<circle cx="78.1" cy="575.5" r="3.05" fill="#a03345"/>
<circle cx="82.5" cy="575.5" r="3.05" fill="#a03345"/>
<circle cx="85.5" cy="579.5" r="3.05" fill="#a03345"/>
<circle cx="90.2" cy="571.4" r="3.05" fill="#a03345"/>
<circle cx="93.9" cy="570.1" r="3.05" fill="#a03345"/>
<circle cx="94.9" cy="573.5" r="3.05" fill="#a03345"/>
<circle cx="90.2" cy="575.5" r="3.05" fill="#a03345"/>
<circle cx="87.5" cy="578.2" r="3.05" fill="#a03345"/>
<circle cx="83.5" cy="578.2" r="3.05" fill="#a03345"/>
<circle cx="79.5" cy="571" r="3.05" fill="#a03345"/>
<circle cx="92" cy="572.5" r="3.05" fill="#a03345"/>
<circle cx="123.3" cy="460.8" r="3.05" fill="#4a5f86"/>
<circle cx="123.3" cy="476.4" r="3.05" fill="#4a5f86"/>
<circle cx="111.3" cy="491.5" r="3.05" fill="#4a5f86"/>
<circle cx="115.4" cy="495.9" r="3.05" fill="#4a5f86"/>
<circle cx="123.3" cy="493.8" r="3.05" fill="#4a5f86"/>
<circle cx="135.3" cy="490.2" r="3.05" fill="#4a5f86"/>
<circle cx="131.3" cy="497" r="3.05" fill="#4a5f86"/>
<circle cx="123.3" cy="504.2" r="3.05" fill="#4a5f86"/>
<circle cx="115.4" cy="523.8" r="3.05" fill="#4a5f86"/>
<circle cx="119.2" cy="525.8" r="3.05" fill="#4a5f86"/>
<circle cx="123.3" cy="530.9" r="3.05" fill="#4a5f86"/>
<circle cx="127.2" cy="524.8" r="3.05" fill="#4a5f86"/>
<circle cx="131.3" cy="521.7" r="3.05" fill="#4a5f86"/>
<circle cx="123.6" cy="542.3" r="3.05" fill="#4a5f86"/>
<circle cx="118.9" cy="545.2" r="3.05" fill="#4a5f86"/>
<circle cx="132.4" cy="552.9" r="3.05" fill="#4a5f86"/>
<circle cx="127.9" cy="557" r="3.05" fill="#4a5f86"/>
<circle cx="118.8" cy="564.4" r="3.05" fill="#4a5f86"/>
<line x1="73.4" y1="575.1" x2="98.9" y2="575.1" stroke="#1e1e1e" stroke-width="1.5"/>
<line x1="110.8" y1="516.9" x2="135.8" y2="516.9" stroke="#1e1e1e" stroke-width="1.5"/>
<path d="M138.5 559.5 L305.4 417.6" fill="none" stroke="#7faad6" stroke-width="1.15"/>
<rect x="138.5" y="559.5" width="154.6" height="42.0" fill="#e2e5ee" stroke="#7faad6" stroke-width="1.15"/>
<rect x="305.4" y="417.6" width="206.9" height="183.9" fill="#e2e5ee" stroke="#7faad6" stroke-width="1.15"/>
<line x1="293.1" y1="601.5" x2="305.4" y2="601.5" stroke="#7faad6" stroke-width="1.15"/>
<line x1="138.5" y1="579.7" x2="291.9" y2="579.7" stroke="#1f1f1f" stroke-width="1.3"/>
<line x1="160.4" y1="579.7" x2="160.4" y2="582.8" stroke="#1f1f1f" stroke-width="1"/>
<line x1="198" y1="579.7" x2="198" y2="582.8" stroke="#1f1f1f" stroke-width="1"/>
<line x1="235.1" y1="579.7" x2="235.1" y2="582.8" stroke="#1f1f1f" stroke-width="1"/>
<line x1="272.6" y1="579.7" x2="272.6" y2="582.8" stroke="#1f1f1f" stroke-width="1"/>
<rect x="149.9" y="576.7" width="21.6" height="6.4" rx="3.2" fill="#d39e8e"/>
<line x1="149.4" y1="579.7" x2="172" y2="579.7" stroke="#1e1e1e" stroke-width="1.3"/>
<rect x="187.2" y="575.8" width="21.5" height="7.4" rx="3.7" fill="#b87165"/>
<circle cx="191.5" cy="577.8" r="2.9" fill="#b87165"/>
<circle cx="206.1" cy="577.2" r="2.9" fill="#b87165"/>
<line x1="186.6" y1="579.6" x2="209.4" y2="579.6" stroke="#1e1e1e" stroke-width="1.4"/>
<rect x="224" y="576.5" width="22.2" height="6.2" rx="3.1" fill="#9ca0bf"/>
<line x1="223.6" y1="579.5" x2="246.6" y2="579.5" stroke="#1e1e1e" stroke-width="1.3"/>
<circle cx="263.7" cy="569.6" r="3" fill="#6f7b9e"/>
<circle cx="272.5" cy="569.9" r="3" fill="#6f7b9e"/>
<circle cx="281.2" cy="567.6" r="3" fill="#6f7b9e"/>
<circle cx="281.5" cy="571.5" r="3" fill="#6f7b9e"/>
<circle cx="263.5" cy="572" r="3" fill="#6f7b9e"/>
<path d="M261.5 573 L285 573 L277 579.5 L272.5 582.4 L268 579.5 Z" fill="#6f7b9e"/>
<line x1="260.4" y1="574.1" x2="285.3" y2="574.1" stroke="#1e1e1e" stroke-width="1.4"/>
<text x="403.4" y="438.4" font-size="9.4" text-anchor="start" fill="#1e1e1e" stroke="#1e1e1e" stroke-width="0.28" textLength="51.2" lengthAdjust="spacingAndGlyphs">PHTHALATE</text>
<line x1="352.1" y1="427.1" x2="352.1" y2="580.6" stroke="#1f1f1f" stroke-width="1.3"/>
<line x1="351.5" y1="580" x2="506" y2="580" stroke="#1f1f1f" stroke-width="1.3"/>
<line x1="348.8" y1="447.4" x2="352.1" y2="447.4" stroke="#1f1f1f" stroke-width="1.3"/>
<text x="318.1" y="450.7" font-size="8.4" text-anchor="start" fill="#2a2a2a" stroke="#2a2a2a" stroke-width="0.28" textLength="24.4" lengthAdjust="spacingAndGlyphs">8.0<tspan font-size="9.07" dy="0.15">×</tspan><tspan dy="-0.15">10</tspan></text>
<text x="342.6" y="446.8" font-size="5.4" text-anchor="start" fill="#2a2a2a" stroke="#2a2a2a" stroke-width="0.28" textLength="3.2" lengthAdjust="spacingAndGlyphs">5</text>
<line x1="348.8" y1="480.4" x2="352.1" y2="480.4" stroke="#1f1f1f" stroke-width="1.3"/>
<text x="318.1" y="483.7" font-size="8.4" text-anchor="start" fill="#2a2a2a" stroke="#2a2a2a" stroke-width="0.28" textLength="24.4" lengthAdjust="spacingAndGlyphs">6.0<tspan font-size="9.07" dy="0.15">×</tspan><tspan dy="-0.15">10</tspan></text>
<text x="342.6" y="479.8" font-size="5.4" text-anchor="start" fill="#2a2a2a" stroke="#2a2a2a" stroke-width="0.28" textLength="3.2" lengthAdjust="spacingAndGlyphs">5</text>
<line x1="348.8" y1="513.6" x2="352.1" y2="513.6" stroke="#1f1f1f" stroke-width="1.3"/>
<text x="318.1" y="516.9" font-size="8.4" text-anchor="start" fill="#2a2a2a" stroke="#2a2a2a" stroke-width="0.28" textLength="24.4" lengthAdjust="spacingAndGlyphs">4.0<tspan font-size="9.07" dy="0.15">×</tspan><tspan dy="-0.15">10</tspan></text>
<text x="342.6" y="513" font-size="5.4" text-anchor="start" fill="#2a2a2a" stroke="#2a2a2a" stroke-width="0.28" textLength="3.2" lengthAdjust="spacingAndGlyphs">5</text>
<line x1="348.8" y1="546.6" x2="352.1" y2="546.6" stroke="#1f1f1f" stroke-width="1.3"/>
<text x="318.1" y="549.9" font-size="8.4" text-anchor="start" fill="#2a2a2a" stroke="#2a2a2a" stroke-width="0.28" textLength="24.4" lengthAdjust="spacingAndGlyphs">2.0<tspan font-size="9.07" dy="0.15">×</tspan><tspan dy="-0.15">10</tspan></text>
<text x="342.6" y="546" font-size="5.4" text-anchor="start" fill="#2a2a2a" stroke="#2a2a2a" stroke-width="0.28" textLength="3.2" lengthAdjust="spacingAndGlyphs">5</text>
<line x1="348.8" y1="580" x2="352.1" y2="580" stroke="#1f1f1f" stroke-width="1.3"/>
<text x="346.3" y="583.7" font-size="8.3" text-anchor="end" fill="#2a2a2a" stroke="#2a2a2a" stroke-width="0.28">0</text>
<line x1="371.2" y1="580" x2="371.2" y2="583.4" stroke="#1f1f1f" stroke-width="1"/>
<line x1="409.6" y1="580" x2="409.6" y2="583.4" stroke="#1f1f1f" stroke-width="1"/>
<line x1="447.5" y1="580" x2="447.5" y2="583.4" stroke="#1f1f1f" stroke-width="1"/>
<line x1="485.8" y1="580" x2="485.8" y2="583.4" stroke="#1f1f1f" stroke-width="1"/>
<path d="M410 458.5 V451.3 H486.2 V464.9" fill="none" stroke="#333" stroke-width="1.3"/>
<path d="M450.5 464.9 V459 H486.2 V459" fill="none" stroke="#333" stroke-width="1.3"/>
<circle cx="442.8" cy="447.1" r="1.2" fill="#2a2a2a"/>
<circle cx="446.3" cy="447.1" r="1.2" fill="#2a2a2a"/>
<circle cx="449.8" cy="447.1" r="1.2" fill="#2a2a2a"/>
<circle cx="453.3" cy="447.1" r="1.2" fill="#2a2a2a"/>
<rect x="358.8" y="575.3" width="25.4" height="5.7" rx="3" fill="#d39e8e"/>
<circle cx="364.81" cy="577.42" r="3.05" fill="#d39e8e"/>
<circle cx="367.01" cy="577.42" r="3.05" fill="#d39e8e"/>
<circle cx="375.99" cy="577.42" r="3.05" fill="#d39e8e"/>
<circle cx="378.19" cy="577.42" r="3.05" fill="#d39e8e"/>
<path d="M365.15 580 L377.85 580 L372.7 582.6 L370.3 582.6 Z" fill="#d39e8e"/>
<line x1="359.2" y1="577.7" x2="384" y2="577.7" stroke="#1e1e1e" stroke-width="1.5"/>
<circle cx="405" cy="562.3" r="3.05" fill="#b87165"/>
<circle cx="418.5" cy="566.5" r="3.05" fill="#b87165"/>
<circle cx="405" cy="570.8" r="3.05" fill="#b87165"/>
<circle cx="413.8" cy="570.4" r="3.05" fill="#b87165"/>
<circle cx="400" cy="572.7" r="3.05" fill="#b87165"/>
<circle cx="420" cy="572.3" r="3.05" fill="#b87165"/>
<circle cx="402.3" cy="575.4" r="3.05" fill="#b87165"/>
<circle cx="406.9" cy="576.9" r="3.05" fill="#b87165"/>
<circle cx="411.5" cy="576.5" r="3.05" fill="#b87165"/>
<circle cx="416.9" cy="575" r="3.05" fill="#b87165"/>
<circle cx="409" cy="577.5" r="3.05" fill="#b87165"/>
<circle cx="400.2" cy="574.8" r="3.05" fill="#b87165"/>
<line x1="397.3" y1="574" x2="422.3" y2="574" stroke="#1e1e1e" stroke-width="1.8"/>
<rect x="435" y="575.3" width="25.2" height="5.7" rx="3" fill="#9ca0bf"/>
<circle cx="440.96" cy="577.42" r="3.05" fill="#9ca0bf"/>
<circle cx="443.16" cy="577.42" r="3.05" fill="#9ca0bf"/>
<circle cx="452.04" cy="577.42" r="3.05" fill="#9ca0bf"/>
<circle cx="454.24" cy="577.42" r="3.05" fill="#9ca0bf"/>
<path d="M441.3 580 L453.9 580 L448.8 582.6 L446.4 582.6 Z" fill="#9ca0bf"/>
<line x1="435.6" y1="577.7" x2="460" y2="577.7" stroke="#1e1e1e" stroke-width="1.5"/>
<circle cx="481.2" cy="472" r="3.05" fill="#6f7b9e"/>
<circle cx="490" cy="479.7" r="3.05" fill="#6f7b9e"/>
<circle cx="490" cy="489.2" r="3.05" fill="#6f7b9e"/>
<circle cx="481.2" cy="493.5" r="3.05" fill="#6f7b9e"/>
<circle cx="485.8" cy="515.7" r="3.05" fill="#6f7b9e"/>
<circle cx="475.8" cy="525.4" r="3.05" fill="#6f7b9e"/>
<circle cx="482.6" cy="528" r="3.05" fill="#6f7b9e"/>
<circle cx="488.9" cy="527.7" r="3.05" fill="#6f7b9e"/>
<circle cx="495.7" cy="524.6" r="3.05" fill="#6f7b9e"/>
<circle cx="485.8" cy="541.2" r="3.05" fill="#6f7b9e"/>
<circle cx="477.4" cy="546.5" r="3.05" fill="#6f7b9e"/>
<circle cx="494.2" cy="548" r="3.05" fill="#6f7b9e"/>
<circle cx="485.8" cy="551.2" r="3.05" fill="#6f7b9e"/>
<circle cx="481.2" cy="562.3" r="3.05" fill="#6f7b9e"/>
<circle cx="477.7" cy="565.1" r="3.05" fill="#6f7b9e"/>
<circle cx="490.3" cy="563.5" r="3.05" fill="#6f7b9e"/>
<circle cx="494.3" cy="565.7" r="3.05" fill="#6f7b9e"/>
<circle cx="485.8" cy="573.4" r="3.05" fill="#6f7b9e"/>
<line x1="473.5" y1="531.8" x2="498.2" y2="531.8" stroke="#1e1e1e" stroke-width="1.5"/>
<text x="85.6" y="594.6" font-size="8.6" text-anchor="middle" fill="#222" stroke="#222" stroke-width="0.28" textLength="13.4" lengthAdjust="spacingAndGlyphs">Bag</text>
<text x="123" y="594.6" font-size="8.6" text-anchor="middle" fill="#222" stroke="#222" stroke-width="0.28" textLength="13.4" lengthAdjust="spacingAndGlyphs">Bag</text>
<line x1="76.9" y1="599.6" x2="94.6" y2="599.6" stroke="#222" stroke-width="1.5"/>
<line x1="114.4" y1="599.6" x2="131.2" y2="599.6" stroke="#222" stroke-width="1.5"/>
<text x="86" y="610" font-size="8.2" text-anchor="middle" fill="#222" stroke="#222" stroke-width="0.28">5</text>
<text x="122.5" y="610" font-size="8.2" text-anchor="middle" fill="#222" stroke="#222" stroke-width="0.28" textLength="9.6" lengthAdjust="spacingAndGlyphs">42</text>
<text x="160.4" y="594.2" font-size="8.6" text-anchor="middle" fill="#222" stroke="#222" stroke-width="0.28" textLength="11.8" lengthAdjust="spacingAndGlyphs">Pre</text>
<text x="198" y="594.2" font-size="8.6" text-anchor="middle" fill="#222" stroke="#222" stroke-width="0.28" textLength="15.9" lengthAdjust="spacingAndGlyphs">Post</text>
<line x1="152" y1="599.2" x2="206.8" y2="599.2" stroke="#222" stroke-width="1.5"/>
<text x="179.5" y="610" font-size="8.2" text-anchor="middle" fill="#222" stroke="#222" stroke-width="0.28">5</text>
<text x="235.1" y="594.2" font-size="8.6" text-anchor="middle" fill="#222" stroke="#222" stroke-width="0.28" textLength="11.4" lengthAdjust="spacingAndGlyphs">Pre</text>
<text x="272.6" y="594.2" font-size="8.6" text-anchor="middle" fill="#222" stroke="#222" stroke-width="0.28" textLength="15.6" lengthAdjust="spacingAndGlyphs">Post</text>
<line x1="227.3" y1="599.2" x2="282" y2="599.2" stroke="#222" stroke-width="1.5"/>
<text x="254.5" y="610" font-size="8.2" text-anchor="middle" fill="#222" stroke="#222" stroke-width="0.28" textLength="9.3" lengthAdjust="spacingAndGlyphs">42</text>
<text x="129.2" y="624.2" font-size="10.2" text-anchor="start" fill="#222" stroke="#222" stroke-width="0.28" textLength="100.5" lengthAdjust="spacingAndGlyphs">Storage duration (days)</text>
<text x="371.5" y="594.1" font-size="8.6" text-anchor="middle" fill="#222" stroke="#222" stroke-width="0.28" textLength="11.7" lengthAdjust="spacingAndGlyphs">Pre</text>
<text x="409.7" y="594.1" font-size="8.6" text-anchor="middle" fill="#222" stroke="#222" stroke-width="0.28" textLength="15.6" lengthAdjust="spacingAndGlyphs">Post</text>
<line x1="363" y1="599.6" x2="418" y2="599.6" stroke="#222" stroke-width="1.5"/>
<text x="392.1" y="610" font-size="8.2" text-anchor="middle" fill="#222" stroke="#222" stroke-width="0.28">5</text>
<text x="447.6" y="594.1" font-size="8.6" text-anchor="middle" fill="#222" stroke="#222" stroke-width="0.28" textLength="11.6" lengthAdjust="spacingAndGlyphs">Pre</text>
<text x="485.9" y="594.1" font-size="8.6" text-anchor="middle" fill="#222" stroke="#222" stroke-width="0.28" textLength="15.6" lengthAdjust="spacingAndGlyphs">Post</text>
<line x1="439" y1="599.6" x2="494" y2="599.6" stroke="#222" stroke-width="1.5"/>
<text x="467.7" y="610" font-size="8.2" text-anchor="middle" fill="#222" stroke="#222" stroke-width="0.28" textLength="8.6" lengthAdjust="spacingAndGlyphs">42</text>
<text x="379.1" y="624.2" font-size="10.2" text-anchor="start" fill="#222" stroke="#222" stroke-width="0.28" textLength="100.2" lengthAdjust="spacingAndGlyphs">Storage duration (days)</text>
<rect x="0" y="0" width="1.1" height="636" fill="#000"/>
<rect x="518.9" y="0" width="1.1" height="636" fill="#000"/>
<rect x="0" y="0" width="520" height="1.6" fill="#555"/>
<rect x="0" y="633.6" width="520" height="2.4" fill="#555"/>
</svg>
</body></html>
